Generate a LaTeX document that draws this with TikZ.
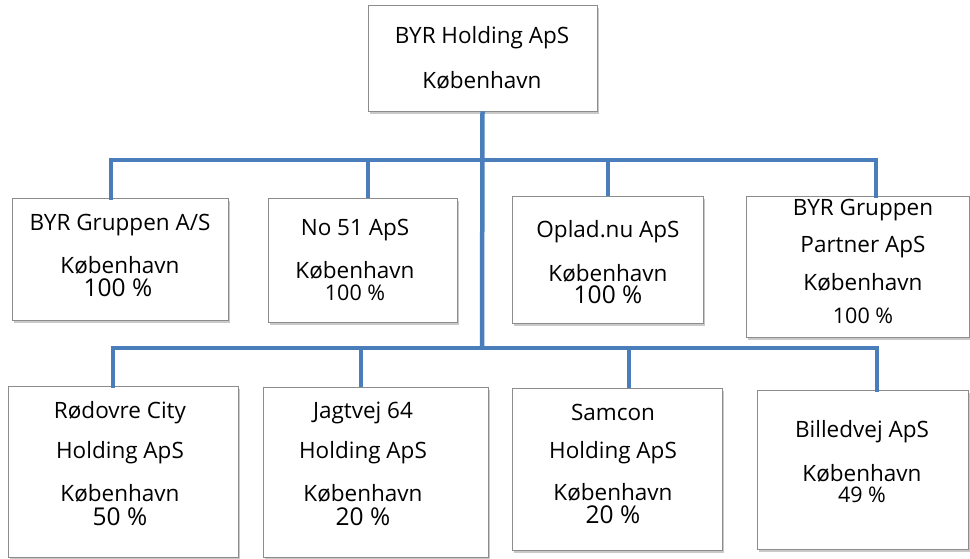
\documentclass[tikz,border=0pt]{standalone}
\usepackage{fontspec}
\setmainfont{Open Sans}
\usetikzlibrary{shadows}
\definecolor{linkblue}{HTML}{4A7EBB}
\definecolor{boxgray}{HTML}{8C8C8C}
\tikzset{
  orgbox/.style={draw=boxgray, line width=0.8pt, fill=white,
    drop shadow={shadow xshift=2pt, shadow yshift=-3pt, fill=black!35, opacity=0.6}},
  lbl/.style={inner sep=0pt, font=\fontsize{22.5}{26}\selectfont},
  pct/.style={inner sep=0pt, font=\fontsize{21.5}{25}\selectfont},
  pctbig/.style={inner sep=0pt, font=\fontsize{24.5}{28}\selectfont},
  link/.style={draw=linkblue, line width=4.5pt}
}
\begin{document}
\begin{tikzpicture}[x=1pt,y=-1pt]
\useasboundingbox (0,0) rectangle (970,558);
\fill[white] (0,0) rectangle (970,558);
% boxes
\node[orgbox, minimum width=229pt, minimum height=106pt, inner sep=0pt] (top) at (482.5,58) {};
\node[orgbox, minimum width=216pt, minimum height=122pt, inner sep=0pt] (b1) at (120,259) {};
\node[orgbox, minimum width=189pt, minimum height=124pt, inner sep=0pt] (b2) at (362.5,260) {};
\node[orgbox, minimum width=191pt, minimum height=127pt, inner sep=0pt] (b3) at (607.5,259.5) {};
\node[orgbox, minimum width=223pt, minimum height=141pt, inner sep=0pt] (b4) at (857.5,266.5) {};
\node[orgbox, minimum width=230pt, minimum height=171pt, inner sep=0pt] (b5) at (123,471.5) {};
\node[orgbox, minimum width=225pt, minimum height=170pt, inner sep=0pt] (b6) at (375.5,472) {};
\node[orgbox, minimum width=210pt, minimum height=162pt, inner sep=0pt] (b7) at (617,469) {};
\node[orgbox, minimum width=211pt, minimum height=159pt, inner sep=0pt] (b8) at (862.5,469.5) {};
% connector coordinates
\coordinate (ubar) at (482,160);
\coordinate (lbar) at (482,348);
\coordinate (u1) at (111,160);
\coordinate (u2) at (368,160);
\coordinate (u3) at (608,160);
\coordinate (u4) at (876,160);
\coordinate (l1) at (113,348);
\coordinate (l2) at (361,348);
\coordinate (l3) at (629,348);
\coordinate (l4) at (877,348);
% connectors
\draw[link] (top.south) -- (lbar);
\draw[link, line cap=rect] (b1.north -| u1) -- (u1) -- (u4) -- (b4.north -| u4);
\draw[link] (u2) -- (b2.north -| u2);
\draw[link] (u3) -- (b3.north -| u3);
\draw[link, line cap=rect] (b5.north -| l1) -- (l1) -- (l4) -- (b8.north -| l4);
\draw[link] (l2) -- (b6.north -| l2);
\draw[link] (l3) -- (b7.north -| l3);
% texts
\node[lbl] (t1) at (482,38) {BYR Holding ApS};
\node[lbl] (t2) at (482,80) {København};
\node[lbl] (a1) at (120,225) {BYR Gruppen A/S};
\node[lbl] (a2) at (120,265) {København};
\node[pctbig] (a3) at (118,288) {100 \%};
\node[lbl] (c1) at (355,230) {No 51 ApS};
\node[lbl] (c2) at (355,270) {København};
\node[pct] (c3) at (355,293) {100 \%};
\node[lbl] (d1) at (608,232) {Oplad.nu ApS};
\node[lbl] (d2) at (608,273) {København};
\node[pctbig] (d3) at (608,295) {100 \%};
\node[lbl] (e1) at (863,210) {BYR Gruppen};
\node[lbl] (e2) at (863,247) {Partner ApS};
\node[lbl] (e3) at (863,282) {København};
\node[pct] (e4) at (863,316) {100 \%};
\node[lbl] (f1) at (120,413) {Rødovre City};
\node[lbl] (f2) at (120,453) {Holding ApS};
\node[lbl] (f3) at (120,493) {København};
\node[pctbig] (f4) at (120,517) {50 \%};
\node[lbl] (g1) at (363,413) {Jagtvej 64};
\node[lbl] (g2) at (363,453) {Holding ApS};
\node[lbl] (g3) at (363,493) {København};
\node[pctbig] (g4) at (363,517) {20 \%};
\node[lbl] (h1) at (613,412) {Samcon};
\node[lbl] (h2) at (613,453) {Holding ApS};
\node[lbl] (h3) at (613,492) {København};
\node[pctbig] (h4) at (613,515) {20 \%};
\node[lbl] (k1) at (862,432) {Billedvej ApS};
\node[lbl] (k2) at (862,473) {København};
\node[pct] (k3) at (862,495) {49 \%};
\end{tikzpicture}
\end{document}
